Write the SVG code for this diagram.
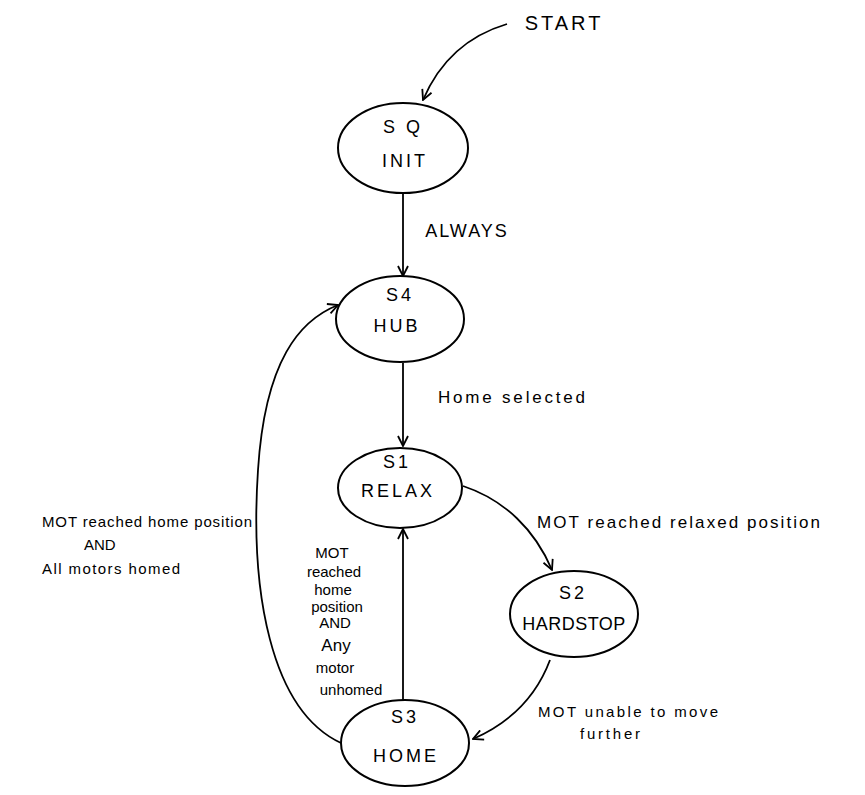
<svg xmlns="http://www.w3.org/2000/svg" width="865" height="795" viewBox="0 0 865 795">
<style>
.n{fill:#fff;stroke:#000;stroke-width:2}
.e{fill:none;stroke:#000;stroke-width:1.8}
text{font-family:"Liberation Sans","DejaVu Sans",sans-serif;fill:#000}
.st{font-size:18px;letter-spacing:3px;text-anchor:middle}
.lb{font-size:17px}
.sm{font-size:15px}
</style>
<defs>
<marker id="a" viewBox="0 0 12 12" refX="11" refY="6" markerWidth="12" markerHeight="12" markerUnits="userSpaceOnUse" orient="auto">
<path d="M1,1 L11,6 L1,11" fill="none" stroke="#000" stroke-width="1.8"/>
</marker>
</defs>
<rect width="865" height="795" fill="#fff"/>
<g id="connectors">
<path class="e" d="M507,24 C470,35 440,60 423,100" marker-end="url(#a)"/>
<path class="e" d="M403,193 L403,276" marker-end="url(#a)"/>
<path class="e" d="M403,363 L403,446" marker-end="url(#a)"/>
<path class="e" d="M463,486 C505,500 535,530 552,570" marker-end="url(#a)"/>
<path class="e" d="M550,660 C535,700 505,725 473,739" marker-end="url(#a)"/>
<path class="e" d="M403,700 L403,529" marker-end="url(#a)"/>
<path class="e" d="M341,743 C270,710 250,590 258,470 C265,360 300,320 338,305" marker-end="url(#a)"/>
</g>
<g id="start"><text class="st" x="564" y="30" style="font-size:20px">START</text></g>
<g id="init">
<ellipse class="n" cx="403" cy="148" rx="65" ry="45"/>
<text class="st" x="403" y="133">S Q</text>
<text class="st" x="405" y="167">INIT</text>
</g>
<g id="hub">
<ellipse class="n" cx="400" cy="319" rx="64" ry="43"/>
<text class="st" x="400" y="301">S4</text>
<text class="st" x="397" y="332">HUB</text>
</g>
<g id="relax">
<ellipse class="n" cx="400" cy="488" rx="62" ry="40"/>
<text class="st" x="397" y="468">S1</text>
<text class="st" x="398" y="497">RELAX</text>
</g>
<g id="hardstop">
<ellipse class="n" cx="574" cy="614" rx="64" ry="43"/>
<text class="st" x="573" y="599">S2</text>
<text class="st" x="574" y="630" style="letter-spacing:0.5px">HARDSTOP</text>
</g>
<g id="home">
<ellipse class="n" cx="405" cy="743" rx="64" ry="43"/>
<text class="st" x="405" y="723">S3</text>
<text class="st" x="406" y="762">HOME</text>
</g>
<g id="labels">
<text class="st" x="467" y="237" style="font-size:18px;letter-spacing:2px">ALWAYS</text>
<text class="lb" x="438" y="403" textLength="147" lengthAdjust="spacing">Home  selected</text>
<text class="lb" x="537" y="528" textLength="283" lengthAdjust="spacing">MOT  reached  relaxed  position</text>
<text class="sm" x="538" y="717" textLength="180" lengthAdjust="spacing">MOT  unable to move</text>
<text class="sm" x="580" y="739" textLength="60" lengthAdjust="spacing">further</text>
<text class="sm" x="42" y="527" textLength="210" lengthAdjust="spacing">MOT  reached home position</text>
<text class="sm" x="84" y="550">AND</text>
<text class="sm" x="42" y="574" textLength="138" lengthAdjust="spacing">All motors homed</text>
<g class="sm" text-anchor="middle">
<text x="332" y="558">MOT</text>
<text x="334" y="577">reached</text>
<text x="333" y="595">home</text>
<text x="337" y="612">position</text>
<text x="335" y="628">AND</text>
<text x="336" y="651" style="font-size:17px">Any</text>
<text x="335" y="673">motor</text>
<text x="351" y="695">unhomed</text>
</g>
</g>
</svg>
